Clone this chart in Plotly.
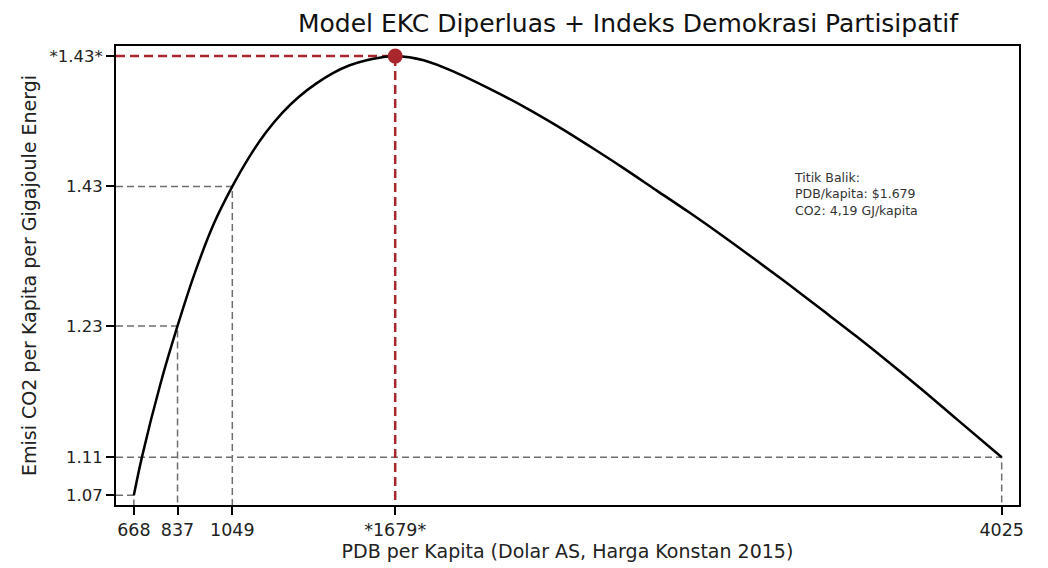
import plotly.graph_objects as go

# Curve (x: GDP per capita, y: position on the emission axis scale)
gdp = [668, 700, 770, 837, 903, 976, 1049, 1113, 1178, 1243, 1308, 1373, 1438, 1503,
       1568, 1624, 1679, 1789, 1918, 2047, 2176, 2305, 2433, 2562, 2691, 2820, 2949,
       3078, 3207, 3335, 3464, 3593, 3722, 3851, 4025]
co2 = [2.1, 10.6, 26.2, 39.0, 50.4, 61.1, 69.4, 75.7, 81.1, 85.5, 89.0, 91.8, 94.1, 95.8,
       96.9, 97.5, 97.8, 96.9, 94.1, 90.6, 86.8, 82.6, 78.1, 73.4, 68.5, 63.6, 58.5,
       53.2, 47.8, 42.3, 36.7, 30.9, 24.9, 18.7, 10.4]

x_tick_vals = [668, 837, 1049, 1679, 4025]
x_tick_text = ["668", "837", "1049", "*1679*", "4025"]
y_tick_vals = [2.1, 10.4, 39.0, 69.4, 97.8]
y_tick_text = ["1.07", "1.11", "1.23", "1.43", "*1.43*"]

guide_x = [668, 837, 1049, 4025]
guide_y = [2.1, 39.0, 69.4, 10.4]

turn_x = 1679
turn_y = 97.8

x_range = [599, 4092]
y_range = [0, 100]

title_text = "Model EKC Diperluas + Indeks Demokrasi Partisipatif"
x_title = "PDB per Kapita (Dolar AS, Harga Konstan 2015)"
y_title = "Emisi CO2 per Kapita per Gigajoule Energi"
note_text = "Titik Balik:<br>PDB/kapita: $1.679<br>CO2: 4,19 GJ/kapita"

FONT = "DejaVu Sans"
RED = "#a8262c"
GRAY = "#6e6e6e"

fig = go.Figure()

# gray guide lines
gx, gy = [], []
for xv, yv in zip(guide_x, guide_y):
    gx += [x_range[0], xv, xv, None]
    gy += [yv, yv, y_range[0], None]
fig.add_trace(go.Scatter(x=gx, y=gy, mode="lines",
                         line=dict(color=GRAY, width=1.5, dash="7px,4px"),
                         hoverinfo="skip", showlegend=False))

# red guide lines for turning point
fig.add_trace(go.Scatter(x=[x_range[0], turn_x, turn_x], y=[turn_y, turn_y, y_range[0]],
                         mode="lines",
                         line=dict(color=RED, width=2.5, dash="9px,5px"),
                         hoverinfo="skip", showlegend=False))

# curve
fig.add_trace(go.Scatter(x=gdp, y=co2, mode="lines",
                         line=dict(color="black", width=2.5, shape="spline", smoothing=1.0),
                         showlegend=False))

# turning point marker
fig.add_trace(go.Scatter(x=[turn_x], y=[turn_y], mode="markers",
                         marker=dict(color=RED, size=15),
                         showlegend=False))

fig.update_layout(
    width=1040, height=560,
    margin=dict(l=108, r=29, t=38, b=61),
    paper_bgcolor="white", plot_bgcolor="white",
    font=dict(family=FONT, color="#222222"),
    title=dict(text=title_text, x=0.567, xanchor="center", xref="paper",
               y=0.9732, yanchor="middle", yref="container",
               font=dict(family=FONT, size=25, color="#111111")),
    xaxis=dict(range=x_range, tickmode="array", tickvals=x_tick_vals, ticktext=x_tick_text,
               showgrid=False, zeroline=False, showline=True, linecolor="black", linewidth=2,
               mirror=True, ticks="outside", ticklen=8, tickwidth=2, tickcolor="black",
               tickfont=dict(size=17.5, color="#222222"),
               title=dict(text=x_title, font=dict(size=19, color="#222222"), standoff=3)),
    yaxis=dict(range=y_range, tickmode="array", tickvals=y_tick_vals, ticktext=y_tick_text,
               showgrid=False, zeroline=False, showline=True, linecolor="black", linewidth=2,
               mirror=True, ticks="outside", ticklen=8, tickwidth=2, tickcolor="black",
               tickfont=dict(size=16.5, color="#222222"),
               title=dict(text=y_title, font=dict(size=19, color="#222222"), standoff=8)),
    annotations=[dict(text=note_text, xref="paper", yref="paper", x=0.7486, y=0.677,
                      xanchor="left", yanchor="middle", align="left", showarrow=False,
                      font=dict(family=FONT, size=12.5, color="#333333"))],
)

fig.write_html("out.html")
